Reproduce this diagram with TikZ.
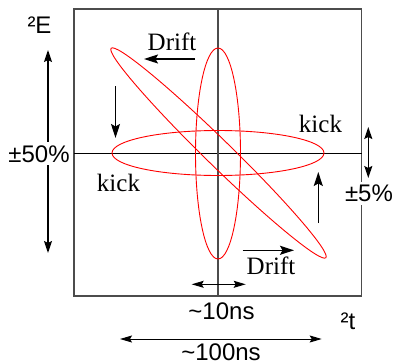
\documentclass[tikz,border=0pt]{standalone}
\usepackage{fontspec}
\setmainfont{Liberation Serif}
\setsansfont{Liberation Sans}
\usetikzlibrary{arrows.meta}
\begin{document}
\begin{tikzpicture}[x=1pt,y=-1pt,
  frame/.style={draw=black!70, line width=1.1pt},
  haxis/.style={draw=black, line width=1pt},
  orbit/.style={draw=red, line width=0.9pt},
  arr/.style={-{Stealth[length=14pt,width=9pt,inset=2.5pt]}, line width=1.3pt},
  darr/.style={{Stealth[length=12pt,width=8pt,inset=2pt]}-{Stealth[length=12pt,width=8pt,inset=2pt]}, line width=1.3pt},
  sarr/.style={{Stealth[length=12pt,width=7pt,inset=2pt]}-{Stealth[length=12pt,width=7pt,inset=2pt]}, line width=1pt},
  serif/.style={font=\fontsize{25}{28}\selectfont\rmfamily, inner sep=0pt, anchor=base},
  sans/.style={font=\fontsize{24}{28}\selectfont\sffamily, inner sep=0pt, anchor=base},
  masked/.style={sans, fill=white, inner sep=3pt}]
\useasboundingbox (0,0) rectangle (394,364);
% frame and axes
\coordinate (tl) at (74,9);
\coordinate (br) at (361.5,296);
\coordinate (hl) at (74,153);
\coordinate (hr) at (361.5,153);
\coordinate (vt) at (218,9);
\coordinate (vb) at (218,296);
\draw[frame] (tl) rectangle (br);
\draw[haxis] (hl) -- (hr);
\draw[frame] (vt) -- (vb);
% ellipses
\coordinate (c) at (218,153);
\coordinate (cv) at (218,153.5);
\coordinate (ct) at (218.5,153);
\draw[orbit] (c) ellipse [x radius=106pt, y radius=22.5pt];
\draw[orbit] (cv) ellipse [x radius=22.5pt, y radius=105.5pt];
\draw[orbit, rotate around={-44.3:(ct)}] (ct) ellipse [x radius=150pt, y radius=13pt];
% motion arrows
\coordinate (d1a) at (195,59);   \coordinate (d1b) at (144,59);
\coordinate (k1a) at (115.5,86); \coordinate (k1b) at (115.5,138);
\coordinate (k2a) at (318.3,223); \coordinate (k2b) at (318.3,172);
\coordinate (d2a) at (242.5,250.3); \coordinate (d2b) at (294,250.3);
\draw[arr] (d1a) -- (d1b);
\draw[arr] (k1a) -- (k1b);
\draw[arr] (k2a) -- (k2b);
\draw[arr] (d2a) -- (d2b);
% labels
\node[serif] (drift1) at (172,50) {Drift};
\node[serif] (kickr) at (320.5,132.7) {kick};
\node[serif] (kickl) at (118.5,191.7) {kick};
\node[serif] (drift2) at (271,274.3) {Drift};
% scale arrows
\coordinate (ea) at (48,50); \coordinate (eb) at (48,253);
\draw[darr] (ea) -- (eb);
\coordinate (pa) at (368.3,127); \coordinate (pb) at (368.3,178);
\draw[darr] (pa) -- (pb);
\coordinate (ta) at (191.7,284.3); \coordinate (tb) at (245.7,284.3);
\draw[sarr] (ta) -- (tb);
\coordinate (ua) at (120,339); \coordinate (ub) at (321.7,339);
\draw[sarr] (ua) -- (ub);
\node[sans] (dE) at (39.5,33.3) {²E};
\node[masked] (p50) at (39,162) {±50\%};
\node[masked] (p5) at (369,201.5) {±5\%};
\node[sans] (t10) at (221.5,319) {\textasciitilde10ns};
\node[sans] (t100) at (221,360) {\textasciitilde100ns};
\node[sans] (dt) at (348,329) {²t};
\end{tikzpicture}
\end{document}
